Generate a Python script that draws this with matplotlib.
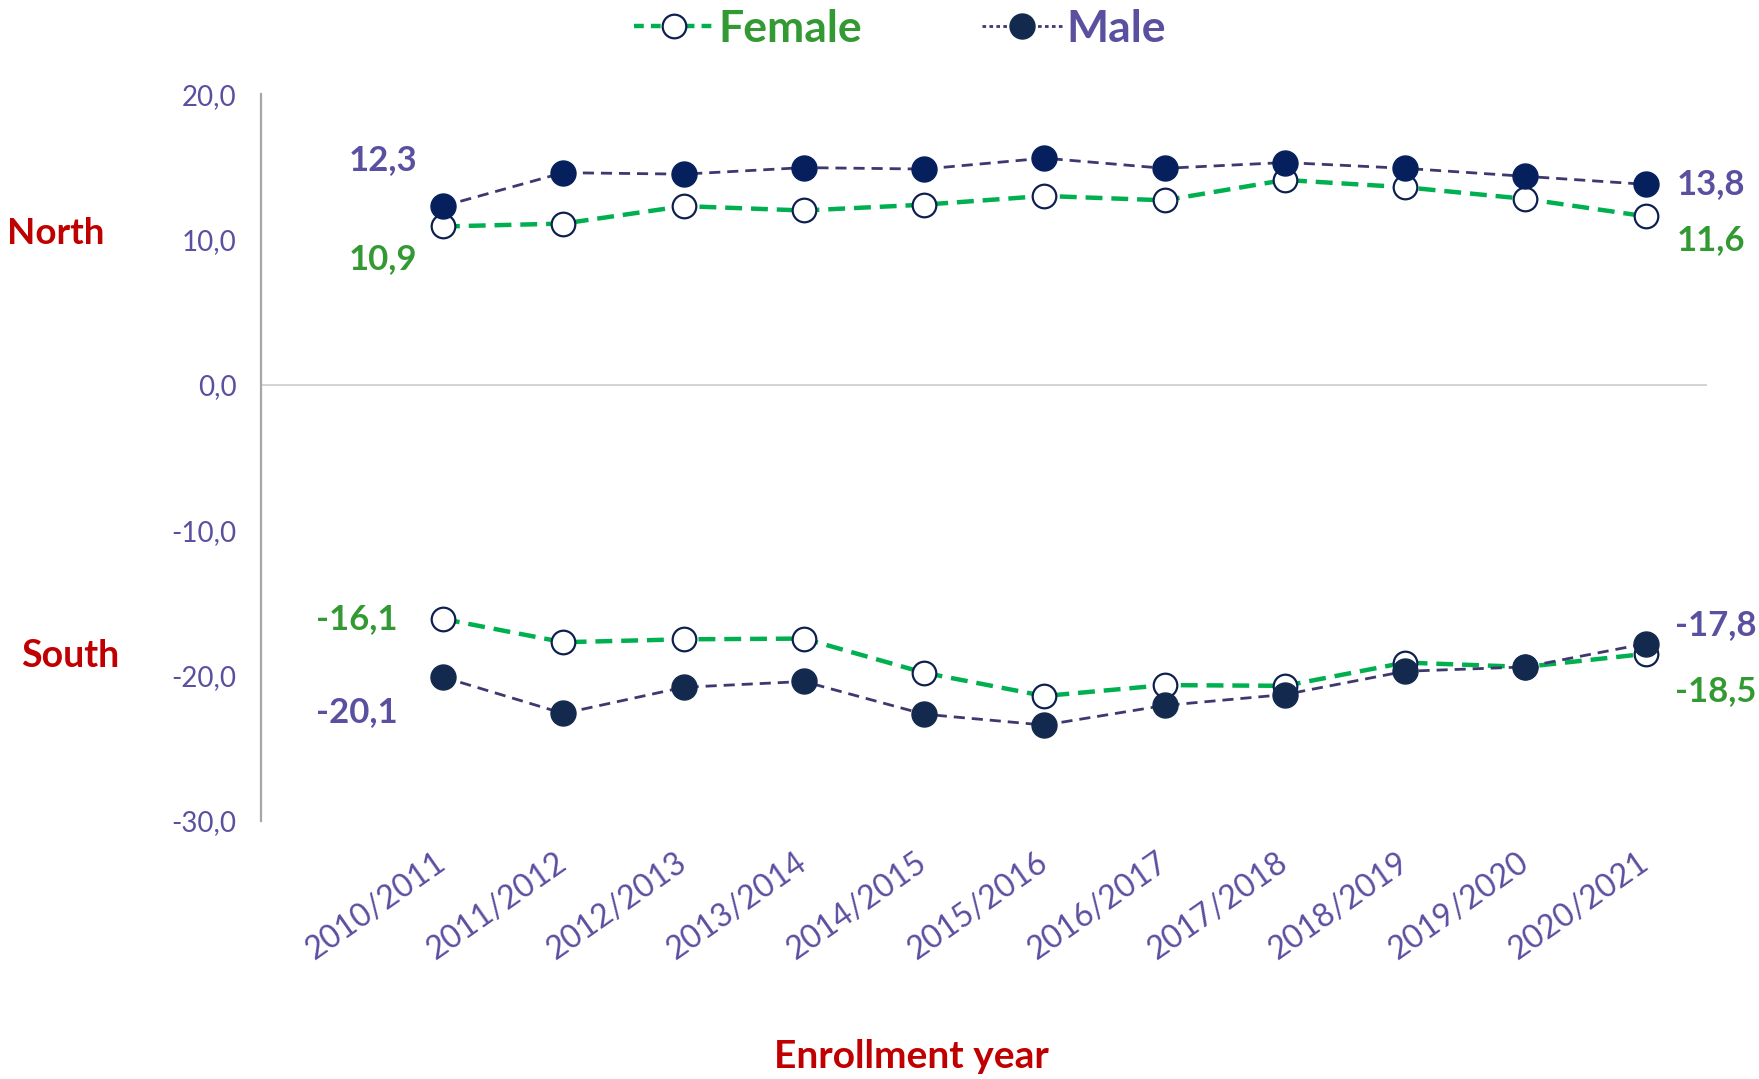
import matplotlib
matplotlib.use("Agg")
import matplotlib.pyplot as plt
from matplotlib.lines import Line2D
from matplotlib.ticker import FuncFormatter

plt.rcParams['font.family'] = ['Lato', 'DejaVu Sans']

years = ["2010/2011", "2011/2012", "2012/2013", "2013/2014", "2014/2015", "2015/2016",
         "2016/2017", "2017/2018", "2018/2019", "2019/2020", "2020/2021"]
north_female = [10.9, 11.1, 12.3, 12.0, 12.4, 13.0, 12.7, 14.1, 13.6, 12.8, 11.6]
north_male = [12.3, 14.6, 14.5, 14.95, 14.85, 15.6, 14.9, 15.3, 14.9, 14.35, 13.8]
south_female = [-16.1, -17.7, -17.5, -17.45, -19.8, -21.4, -20.65, -20.7, -19.1, -19.4, -18.5]
south_male = [-20.1, -22.6, -20.8, -20.4, -22.65, -23.4, -22.05, -21.3, -19.7, -19.4, -17.8]
yticks = [-30, -20, -10, 0, 10, 20]

GREEN_LINE = "#00B050"
GREEN_TEXT = "#339933"
MALE_LINE = "#3E3870"
NAVY_N = "#06205E"
NAVY_S = "#132A4E"
PURPLE = "#5A50A0"
RED = "#C00000"

fig = plt.figure(figsize=(17.59, 10.79), dpi=100)
ax = fig.add_axes([0.1486, 0.2391, 0.8218, 0.6736])
x = list(range(len(years)))

fem_kw = dict(color=GREEN_LINE, lw=3.2, dashes=(3.8, 2.0), marker='o', ms=17,
              mfc='white', mec='#0D2050', mew=1.6, zorder=3)
ax.plot(x, north_female, **fem_kw)
ax.plot(x, south_female, **fem_kw)
male_kw = dict(color=MALE_LINE, lw=2.0, dashes=(4.0, 2.5), marker='o', ms=18, mew=1.0, zorder=4)
ax.plot(x, north_male, mfc=NAVY_N, mec=NAVY_N, **male_kw)
ax.plot(x, south_male, mfc=NAVY_S, mec=NAVY_S, **male_kw)

ax.axhline(0, color="#D0D0D0", lw=1.3, zorder=1)
ax.set_xlim(-1.51, 10.51)
ax.set_ylim(-30, 20)
ax.set_yticks(yticks)
ax.yaxis.set_major_formatter(FuncFormatter(lambda v, p: f"{v:.1f}".replace('.', ',')))
for s in ['top', 'right', 'bottom']:
    ax.spines[s].set_visible(False)
ax.spines['left'].set_color("#A6A6A6")
ax.spines['left'].set_linewidth(1.6)
ax.tick_params(axis='y', length=0, pad=18, labelsize=20, labelcolor=PURPLE)
ax.tick_params(axis='x', length=0, pad=28, labelsize=23, labelcolor=PURPLE)
ax.set_xticks(x)
ax.set_xticklabels(years, rotation=35, ha='right', va='center', rotation_mode='anchor')

def lab(txt, xi, yi, dx, dy, color, ha):
    ax.annotate(txt, (xi, yi), xytext=(dx, dy), textcoords='offset pixels',
                ha=ha, va='center', fontsize=25, fontweight='bold', color=color)

lab("12,3", 0, north_male[0], -26, 46, PURPLE, 'right')
lab("10,9", 0, north_female[0], -26, -33, GREEN_TEXT, 'right')
lab("13,8", 10, north_male[-1], 31, 0, PURPLE, 'left')
lab("11,6", 10, north_female[-1], 31, -24, GREEN_TEXT, 'left')
lab("-16,1", 0, south_female[0], -45, 0, GREEN_TEXT, 'right')
lab("-20,1", 0, south_male[0], -45, -35, PURPLE, 'right')
lab("-17,8", 10, south_male[-1], 29, 19, PURPLE, 'left')
lab("-18,5", 10, south_female[-1], 29, -37, GREEN_TEXT, 'left')

fig.text(56 / 1759, 1 - 233 / 1079, "North", ha='center', va='center',
         fontsize=26.5, fontweight='bold', color=RED)
fig.text(70 / 1759, 1 - 656 / 1079, "South", ha='center', va='center',
         fontsize=27, fontweight='bold', color=RED)
fig.text(911 / 1759, 1 - 1057 / 1079, "Enrollment year", ha='center', va='center',
         fontsize=28, fontweight='bold', color=RED)

h_f = Line2D([], [], color=GREEN_LINE, lw=3.2, dashes=(2.2, 1.6), marker='o', ms=17,
             mfc='white', mec='#0D2050', mew=1.6)
h_m = Line2D([], [], color=MALE_LINE, lw=2.0, dashes=(1.3, 1.2), marker='o', ms=18,
             mfc=NAVY_S, mec=NAVY_S)
leg = fig.legend([h_f, h_m], ["Female", "Male"], loc='center',
                 bbox_to_anchor=(0.5118, 1 - 29 / 1079), ncol=2, frameon=False,
                 prop={'size': 32, 'weight': 'bold'}, handlelength=1.8,
                 handletextpad=0.1, columnspacing=2.7, borderpad=0.0)
for t, c in zip(leg.get_texts(), [GREEN_TEXT, PURPLE]):
    t.set_color(c)

fig.savefig("out.png", dpi=100)
